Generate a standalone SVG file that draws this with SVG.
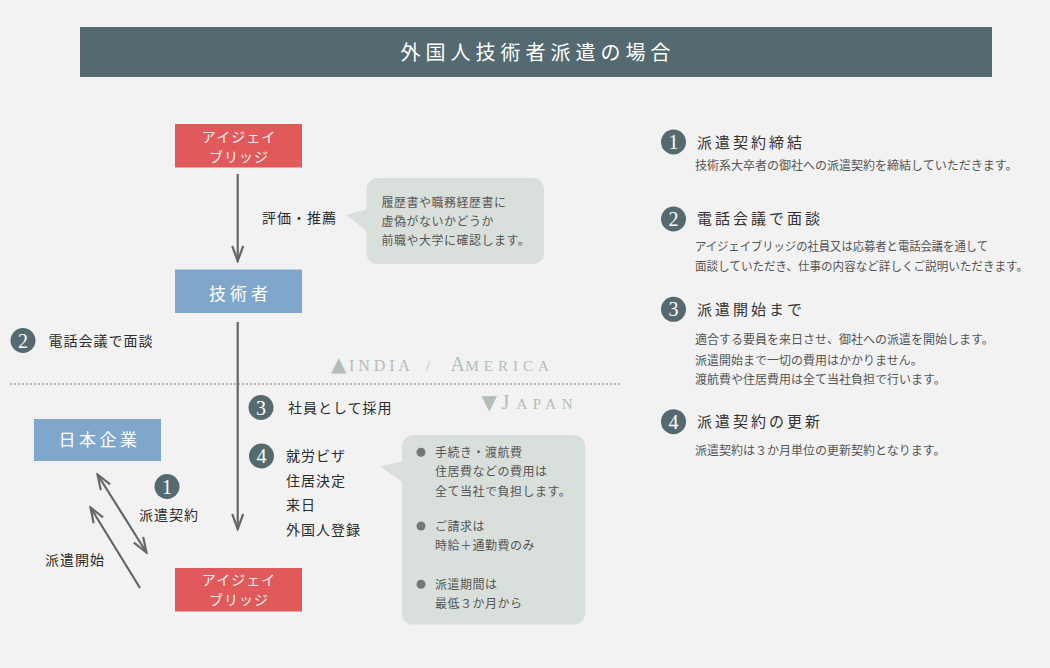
<svg xmlns="http://www.w3.org/2000/svg" width="1050" height="668" viewBox="0 0 1050 668">
<defs>
<style>
text{font-family:"Noto Sans CJK JP","Noto Sans",sans-serif;}
.jp{fill:#2b2b2b;font-size:14px;letter-spacing:1px;}
.bub{fill:#555;font-size:12px;letter-spacing:0.5px;}
.desc{fill:#555;font-size:12px;}
.hd{fill:#333;font-size:15px;letter-spacing:3px;}
.wbox{fill:#fdf0f0;font-size:14px;letter-spacing:1px;}
.num{font-family:"Liberation Serif","Times New Roman",serif;fill:#fff;font-size:20px;}
.circ{fill:#546a70;}
.red{fill:#e05a5c;}
.blue{fill:#7fa7cc;}
.bubble{fill:#d9dfdb;}
.conn{stroke:#666;stroke-width:2.2;fill:none;}
.geo{font-family:"Liberation Serif","Times New Roman",serif;fill:#b3beb6;}
.tri{font-family:"DejaVu Sans",sans-serif;font-size:20px;}
</style>
<marker id="ah" viewBox="-18 -8 20 16" refX="0" refY="0" markerWidth="20" markerHeight="16" markerUnits="userSpaceOnUse" orient="auto-start-reverse">
<path d="M-15,-5.5 L0,0 L-15,5.5" fill="none" stroke="#666" stroke-width="2.2"/>
</marker>
</defs>
<rect width="1050" height="668" fill="#f2f2f2"/>

<g id="title">
<rect x="80" y="27" width="912" height="50" fill="#546a70"/>
<text x="538" y="59.5" text-anchor="middle" fill="#fff" font-size="20" letter-spacing="5">外国人技術者派遣の場合</text>
</g>

<g id="connectors">
<line class="conn" x1="237.7" y1="174" x2="237.7" y2="261" marker-end="url(#ah)"/>
<line class="conn" x1="237.7" y1="322" x2="237.7" y2="529" marker-end="url(#ah)"/>
<line class="conn" x1="97.5" y1="474.5" x2="146.5" y2="552.5" marker-start="url(#ah)" marker-end="url(#ah)"/>
<line class="conn" x1="140" y1="588" x2="90.5" y2="507.5" marker-end="url(#ah)"/>
<line x1="10" y1="384" x2="620" y2="384" stroke="#777" stroke-width="1" stroke-dasharray="2,2"/>
</g>

<g id="ij-bridge-top">
<rect class="red" x="175" y="124" width="127" height="43.5"/>
<text class="wbox" x="239" y="142" text-anchor="middle">アイジェイ</text>
<text class="wbox" x="239" y="162" text-anchor="middle">ブリッジ</text>
</g>

<g id="label-eval">
<text class="jp" x="262" y="223.3">評価・推薦</text>
</g>

<g id="bubble-1">
<rect class="bubble" x="366.5" y="178" width="177.5" height="86" rx="11"/>
<path class="bubble" d="M346,215 L368,209 L368,232 Z"/>
<text class="bub" x="381.5" y="206.6">履歴書や職務経歴書に</text>
<text class="bub" x="381.5" y="225.6">虚偽がないかどうか</text>
<text class="bub" x="381.5" y="245.3">前職や大学に確認します。</text>
</g>

<g id="engineer">
<rect class="blue" x="175" y="269.5" width="127" height="43.5"/>
<text x="240.5" y="299.5" text-anchor="middle" fill="#fff" font-size="17" letter-spacing="4">技術者</text>
</g>

<g id="step2-left">
<circle class="circ" cx="23" cy="340.5" r="12.5"/>
<text class="num" x="23" y="347.5" text-anchor="middle">2</text>
<text class="jp" x="48.5" y="346">電話会議で面談</text>
</g>

<g id="geo-labels">
<text class="geo" y="371"><tspan class="tri" x="331">▲</tspan><tspan x="349" font-size="16" letter-spacing="3.9">INDIA</tspan><tspan x="426" font-size="14">/</tspan><tspan x="450.5" font-size="20">A</tspan><tspan x="465.5" font-size="15" letter-spacing="5">MERICA</tspan></text>
<text class="geo" y="408.5"><tspan class="tri" x="481.5">▼</tspan><tspan x="501.5" font-size="20">J</tspan><tspan x="516.5" font-size="15" letter-spacing="5.5">APAN</tspan></text>
</g>

<g id="step3-left">
<circle class="circ" cx="261" cy="407.5" r="12.5"/>
<text class="num" x="261" y="414.5" text-anchor="middle">3</text>
<text class="jp" x="288" y="413">社員として採用</text>
</g>

<g id="step4-left">
<circle class="circ" cx="261.5" cy="456" r="12.5"/>
<text class="num" x="261.5" y="463" text-anchor="middle">4</text>
<text class="jp" x="286" y="460.5">就労ビザ</text>
<text class="jp" x="286" y="486.3">住居決定</text>
<text class="jp" x="286" y="510.3">来日</text>
<text class="jp" x="286" y="534.6">外国人登録</text>
</g>

<g id="japan-company">
<rect class="blue" x="34" y="419" width="127" height="42"/>
<text x="99.5" y="445.5" text-anchor="middle" fill="#fff" font-size="17" letter-spacing="3.5">日本企業</text>
</g>

<g id="step1-left">
<circle class="circ" cx="167" cy="486.5" r="12.5"/>
<text class="num" x="167" y="493.5" text-anchor="middle">1</text>
<text class="jp" x="139" y="519.6">派遣契約</text>
</g>

<g id="label-start">
<text class="jp" x="45" y="564.6">派遣開始</text>
</g>

<g id="ij-bridge-bottom">
<rect class="red" x="175" y="568" width="127" height="43.5"/>
<text class="wbox" x="239" y="585.3" text-anchor="middle">アイジェイ</text>
<text class="wbox" x="239" y="605.3" text-anchor="middle">ブリッジ</text>
</g>

<g id="bubble-2">
<rect class="bubble" x="402" y="435" width="183" height="189.5" rx="11"/>
<path class="bubble" d="M380,466.5 L404,461 L404,483 Z"/>
<circle cx="421" cy="452.3" r="4.5" fill="#777"/>
<text class="bub" x="435" y="456.9">手続き・渡航費</text>
<text class="bub" x="435" y="476.3">住居費などの費用は</text>
<text class="bub" x="435" y="495.6">全て当社で負担します。</text>
<circle cx="421" cy="526" r="4.5" fill="#777"/>
<text class="bub" x="435" y="530.6">ご請求は</text>
<text class="bub" x="435" y="549.6">時給＋通勤費のみ</text>
<circle cx="421" cy="584.3" r="4.5" fill="#777"/>
<text class="bub" x="435" y="588.9">派遣期間は</text>
<text class="bub" x="435" y="607.9">最低３か月から</text>
</g>

<g id="right-1">
<circle class="circ" cx="673.5" cy="142" r="12.5"/>
<text class="num" x="673.5" y="149" text-anchor="middle">1</text>
<text class="hd" x="697" y="147.7">派遣契約締結</text>
<text class="desc" x="695" y="170.3">技術系大卒者の御社への派遣契約を締結していただきます。</text>
</g>

<g id="right-2">
<circle class="circ" cx="673.5" cy="219" r="12.5"/>
<text class="num" x="673.5" y="226" text-anchor="middle">2</text>
<text class="hd" x="697" y="223.7">電話会議で面談</text>
<text class="desc" x="695" y="250.6" textLength="293" lengthAdjust="spacingAndGlyphs">アイジェイブリッジの社員又は応募者と電話会議を通して</text>
<text class="desc" x="695" y="270.6" textLength="333" lengthAdjust="spacingAndGlyphs">面談していただき、仕事の内容など詳しくご説明いただきます。</text>
</g>

<g id="right-3">
<circle class="circ" cx="673.5" cy="309.3" r="12.5"/>
<text class="num" x="673.5" y="316.3" text-anchor="middle">3</text>
<text class="hd" x="697" y="315">派遣開始まで</text>
<text class="desc" x="695" y="344">適合する要員を来日させ、御社への派遣を開始します。</text>
<text class="desc" x="695" y="364.6">派遣開始まで一切の費用はかかりません。</text>
<text class="desc" x="695" y="384">渡航費や住居費用は全て当社負担で行います。</text>
</g>

<g id="right-4">
<circle class="circ" cx="673.5" cy="421.7" r="12.5"/>
<text class="num" x="673.5" y="428.7" text-anchor="middle">4</text>
<text class="hd" x="697" y="427.4">派遣契約の更新</text>
<text class="desc" x="695" y="455.3">派遣契約は３か月単位の更新契約となります。</text>
</g>
</svg>
